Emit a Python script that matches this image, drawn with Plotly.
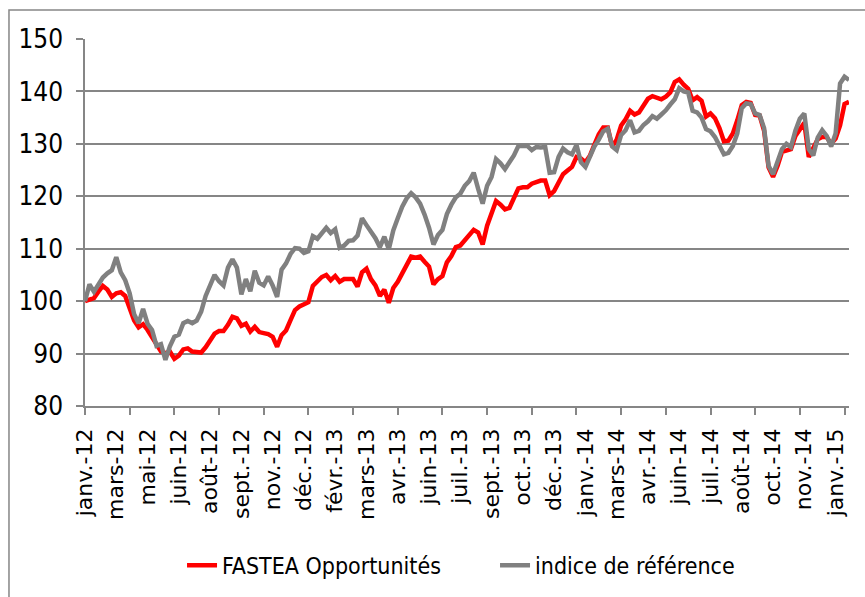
import plotly.graph_objects as go

# weekly observations, index 0 = first week of janv.-12
fastea = [
    100.0, 100.3, 100.6, 101.8, 102.9, 102.2, 100.8, 101.5, 101.7, 101.0,
    98.3, 96.3, 95.0, 95.6, 94.5, 93.2, 91.7, 90.4, 90.1, 90.4,
    89.0, 89.6, 90.8, 91.0, 90.4, 90.3, 90.2, 91.2, 92.7, 93.8,
    94.3, 94.3, 95.5, 97.0, 96.7, 95.3, 95.7, 94.2, 95.1, 94.1,
    93.9, 93.7, 93.2, 91.3, 93.5, 94.4, 96.4, 98.3, 99.0, 99.3,
    99.8, 102.9, 103.8, 104.6, 105.0, 104.0, 104.8, 103.7, 104.2, 104.2,
    104.2, 102.8, 105.5, 106.2, 104.2, 103.0, 101.0, 102.2, 99.7, 102.5,
    103.7, 105.3, 107.0, 108.5, 108.3, 108.5, 107.5, 106.6, 103.2, 104.2,
    104.8, 107.4, 108.6, 110.3, 110.6, 111.5, 112.5, 113.6, 113.1, 110.8,
    114.4, 116.8, 119.1, 118.4, 117.5, 117.8, 119.5, 121.5, 121.7, 121.7,
    122.4, 122.8, 123.0, 123.0, 120.2, 121.0, 122.6, 124.2, 124.9, 125.6,
    127.5, 127.2, 126.5, 127.7, 129.8, 131.8, 133.1, 133.1, 129.5, 130.8,
    133.5, 134.7, 136.3, 135.6, 136.0, 137.2, 138.6, 139.1, 138.9, 138.5,
    139.0, 139.8, 141.8, 142.3, 141.3, 140.5, 138.3, 138.9, 138.2, 135.2,
    135.8, 134.9, 133.0, 130.5, 130.6, 132.0, 134.5, 137.4, 138.0, 137.8,
    135.5, 135.4, 132.5, 125.5, 123.7, 125.8, 128.5, 128.8, 129.0, 131.5,
    132.8, 134.0, 127.5, 129.0, 130.9, 131.3, 131.3, 130.0, 131.0, 133.5,
    137.6, 138.0,
]

indice = [
    100.0, 103.2, 101.8, 103.2, 104.5, 105.3, 105.9, 108.4, 105.5, 104.0,
    101.5, 97.5, 95.8, 98.5, 95.7, 94.5, 91.5, 91.8, 88.8, 91.4,
    93.2, 93.6, 95.8, 96.2, 95.8, 96.3, 98.0, 101.0, 103.2, 105.0,
    103.8, 103.0, 106.4, 108.0, 106.4, 101.3, 104.2, 101.9, 105.8, 103.5,
    103.0, 104.7, 103.0, 100.8, 106.0, 107.2, 109.0, 110.1, 110.0, 109.2,
    109.5, 112.4, 111.9, 113.0, 114.0, 113.0, 113.7, 110.2, 110.6, 111.5,
    111.6, 112.5, 115.8, 114.5, 113.2, 112.0, 110.3, 112.3, 109.9, 113.5,
    115.8, 118.0, 119.6, 120.6, 119.8, 118.6, 116.5, 114.0, 110.8, 112.6,
    113.6, 116.6, 118.4, 119.8, 120.5, 122.0, 122.9, 124.5, 121.4, 118.6,
    122.0, 123.7, 127.1, 126.3, 125.2, 126.5, 127.8, 129.6, 129.5, 129.6,
    128.8, 129.4, 129.3, 129.4, 124.5, 124.6, 127.5, 129.1, 128.4, 128.0,
    129.8, 126.5, 125.6, 127.6, 129.5, 130.8, 132.4, 132.9, 129.5, 128.8,
    131.7, 132.6, 134.5, 132.2, 132.5, 133.6, 134.3, 135.3, 134.8, 135.6,
    136.4, 137.5, 138.5, 140.6, 140.0, 139.8, 136.3, 136.0, 135.0, 132.8,
    132.4, 131.3, 129.8, 128.0, 128.3, 129.6, 132.0, 136.8, 137.7, 137.6,
    135.8, 135.5, 133.0, 125.8, 124.2, 126.5, 129.0, 130.0, 129.4, 132.5,
    134.8, 135.8, 129.0, 127.8, 131.2, 132.6, 131.5, 129.5, 132.0, 141.5,
    142.8, 142.2,
]

tick_labels = [
    "janv.-12", "mars-12", "mai-12", "juin-12", "août-12", "sept.-12",
    "nov.-12", "déc.-12", "févr.-13", "mars-13", "avr.-13", "juin-13",
    "juil.-13", "sept.-13", "oct.-13", "déc.-13", "janv.-14", "mars-14",
    "avr.-14", "juin-14", "juil.-14", "août-14", "oct.-14", "nov.-14",
    "janv.-15",
]
label_step = 7
tick_step = 10

n = len(fastea)
x = list(range(n))

FONT = "Liberation Sans Narrow, DejaVu Sans Condensed, Arial Narrow, sans-serif"
GRID = "#868686"

fig = go.Figure()
fig.add_trace(go.Scatter(x=x, y=fastea, mode="lines", name="FASTEA Opportunités",
                         line=dict(color="#FF0000", width=4.5)))
fig.add_trace(go.Scatter(x=x, y=indice, mode="lines", name="indice de référence",
                         line=dict(color="#808080", width=4.5)))

fig.update_layout(
    width=865, height=597,
    margin=dict(l=85, r=16, t=39, b=190),
    paper_bgcolor="white", plot_bgcolor="white",
    font=dict(family=FONT, size=23, color="black"),
    showlegend=True,
    legend=dict(orientation="h", x=0.127, y=-0.43, xanchor="left", yanchor="middle",
                font=dict(family=FONT, size=23, color="black"),
                entrywidth=268, entrywidthmode="pixels", bgcolor="rgba(0,0,0,0)"),
    xaxis=dict(
        range=[0, n - 1],
        tickmode="array",
        tickvals=[i * label_step for i in range(len(tick_labels))],
        ticktext=tick_labels,
        tickangle=-90,
        ticks="",
        ticklabelstandoff=12,
        showgrid=False,
        showline=True, linecolor=GRID, linewidth=1.5,
        zeroline=False,
        tickfont=dict(family="DejaVu Sans", size=22, color="black"),
        minor=dict(tickmode="array",
                   tickvals=list(range(0, n, tick_step)),
                   ticks="outside", ticklen=7, tickwidth=1.5, tickcolor=GRID,
                   showgrid=False),
    ),
    yaxis=dict(
        range=[80, 150], dtick=10, tick0=80,
        showgrid=True, gridcolor=GRID, gridwidth=1.5,
        showline=True, linecolor=GRID, linewidth=1.5,
        ticks="outside", ticklen=7, tickwidth=1.5, tickcolor=GRID,
        ticklabelstandoff=8,
        zeroline=False,
        tickfont=dict(family=FONT, size=26, color="black"),
    ),
    shapes=[dict(type="rect", xref="paper", yref="paper",
                 x0=-0.0995, x1=1.1, y0=-0.7, y1=1.0788,
                 line=dict(color=GRID, width=1.5), fillcolor="rgba(0,0,0,0)",
                 layer="below")],
)

fig.write_html("out.html", config={"displayModeBar": False},
               post_script="document.body.style.margin='0px';")
